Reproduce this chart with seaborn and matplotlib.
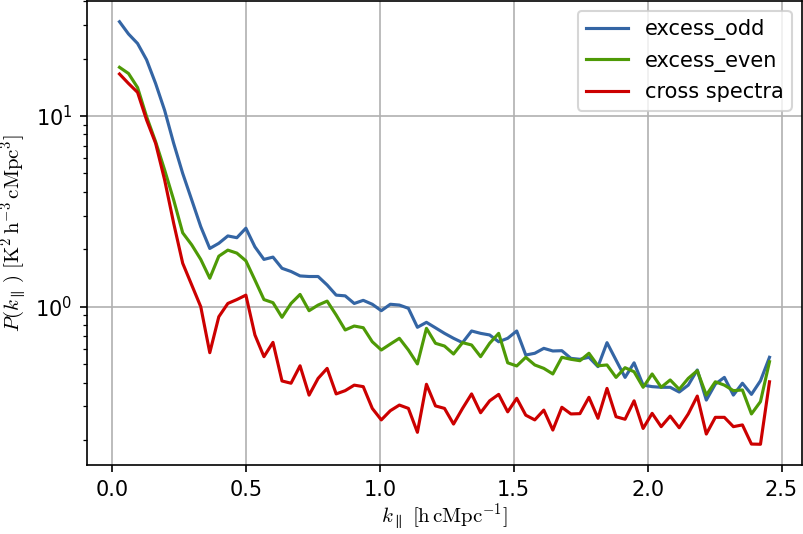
"""
Power spectrum P(k_par) for the odd/even excess and their cross spectrum
Output: out.png
"""

import numpy as np
import pandas as pd
import matplotlib
matplotlib.use("Agg")
import matplotlib.pyplot as plt
import seaborn as sns

# ── data ─────────────────────────────────────────────────────────────────────
k_par = np.linspace(0.0284, 2.455, 73)

excess_odd = [
    31.2, 26.9, 24.0, 19.7, 14.8, 10.7, 7.19, 5.0, 3.63, 2.63,
    2.02, 2.15, 2.35, 2.30, 2.58, 2.06, 1.77, 1.82, 1.59, 1.53,
    1.45, 1.44, 1.44, 1.30, 1.15, 1.14, 1.04, 1.08, 1.03, 0.953,
    1.03, 1.02, 0.981, 0.780, 0.828, 0.775, 0.725, 0.683, 0.648, 0.746,
    0.725, 0.711, 0.655, 0.683, 0.746, 0.558, 0.570, 0.605, 0.586, 0.588,
    0.536, 0.530, 0.543, 0.485, 0.648, 0.525, 0.426, 0.508, 0.388, 0.381,
    0.378, 0.378, 0.357, 0.388, 0.466, 0.324, 0.393, 0.426, 0.344, 0.397,
    0.347, 0.409, 0.543,
]

excess_even = [
    18.0, 16.7, 14.1, 9.92, 7.33, 5.21, 3.63, 2.44, 2.11, 1.77,
    1.41, 1.84, 1.98, 1.91, 1.74, 1.38, 1.09, 1.05, 0.88, 1.04,
    1.16, 0.953, 1.02, 1.07, 0.905, 0.755, 0.792, 0.776, 0.655, 0.593,
    0.637, 0.683, 0.593, 0.501, 0.770, 0.643, 0.622, 0.565, 0.648, 0.630,
    0.547, 0.643, 0.725, 0.508, 0.489, 0.543, 0.495, 0.475, 0.444, 0.543,
    0.530, 0.521, 0.570, 0.490, 0.495, 0.426, 0.479, 0.456, 0.378, 0.444,
    0.378, 0.413, 0.369, 0.421, 0.462, 0.344, 0.404, 0.388, 0.363, 0.366,
    0.274, 0.318, 0.515,
]

cross_spectra = [
    16.6, 14.8, 13.3, 9.53, 7.19, 4.62, 2.74, 1.69, 1.30, 1.0,
    0.574, 0.886, 1.04, 1.09, 1.15, 0.711, 0.547, 0.650, 0.408, 0.397,
    0.490, 0.344, 0.421, 0.475, 0.349, 0.363, 0.388, 0.381, 0.293, 0.255,
    0.285, 0.305, 0.293, 0.2195, 0.392, 0.302, 0.293, 0.2425, 0.293, 0.349,
    0.278, 0.321, 0.347, 0.281, 0.331, 0.270, 0.255, 0.287, 0.2256, 0.297,
    0.274, 0.275, 0.335, 0.260, 0.373, 0.265, 0.257, 0.321, 0.230, 0.276,
    0.235, 0.267, 0.232, 0.274, 0.340, 0.215, 0.263, 0.263, 0.235, 0.240,
    0.1905, 0.190, 0.404,
]

series = {
    "excess_odd": (excess_odd, "#3465a4"),
    "excess_even": (excess_even, "#4e9a06"),
    "cross spectra": (cross_spectra, "#cc0000"),
}

# ── plot ─────────────────────────────────────────────────────────────────────
fig = plt.figure(figsize=(803 / 150, 534 / 150), dpi=150)
ax = fig.add_axes([87 / 803, 68.6 / 534, 715 / 803, 464.8 / 534])

for name, (vals, col) in series.items():
    df = pd.DataFrame({"k": k_par, "P": vals})
    sns.lineplot(data=df, x="k", y="P", color=col, linewidth=1.5,
                 label=name, ax=ax)

ax.set_yscale("log")
ax.grid(True, which="major", color="#b0b0b0", linewidth=0.8)
ax.set_xticks([0.0, 0.5, 1.0, 1.5, 2.0, 2.5])
ax.set_xlabel(r"$k_\parallel\ [\mathrm{h\,cMpc^{-1}}]$",
              math_fontfamily="cm", labelpad=1.0)
ax.set_ylabel(r"$P(k_\parallel\,)\ [\mathrm{K^2\,h^{-3}\,cMpc^3}]$",
              math_fontfamily="cm", labelpad=2.5)
ax.legend(loc="upper right")

fig.savefig("out.png", dpi=150)
plt.close()
